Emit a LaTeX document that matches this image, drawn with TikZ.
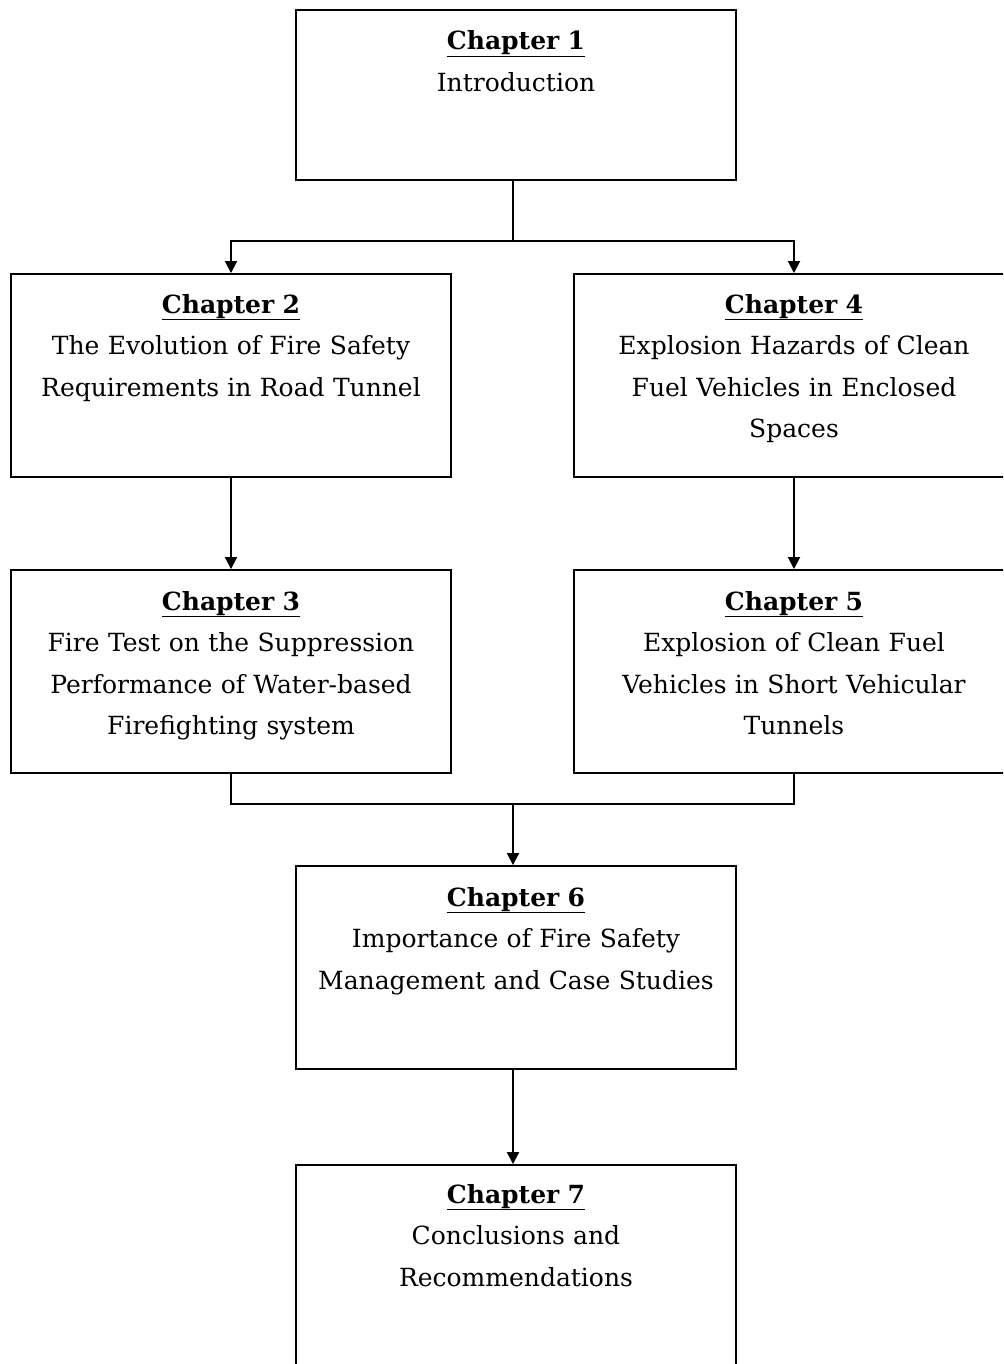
\documentclass[tikz,border=0pt]{standalone}
\usepackage{fontspec}
\setmainfont{DejaVu Serif}
\usetikzlibrary{arrows.meta}
\begin{document}
\begin{tikzpicture}[x=1pt,y=-1pt,
  chbox/.style={draw=black, line width=1.9pt, rectangle, minimum width=440pt, inner sep=0pt},
  chtext/.style={text width=430pt, align=center, anchor=base, inner sep=0pt,
    font=\fontsize{25}{41.5}\selectfont},
  link/.style={draw=black, line width=1.9pt},
  arr/.style={link, -{Triangle[width=12pt,length=12pt]}}]
\useasboundingbox (0,0) rectangle (1003,1364);
\clip (0,0) rectangle (1003,1364);
\fill[white] (0,0) rectangle (1003,1364);
% boxes
\node[chbox, minimum height=170pt] (ch1) at (516,95) {};
\node[chbox, minimum height=203pt] (ch2) at (231,375.5) {};
\node[chbox, minimum height=203pt] (ch4) at (794,375.5) {};
\node[chbox, minimum height=203pt] (ch3) at (231,671.5) {};
\node[chbox, minimum height=203pt] (ch5) at (794,671.5) {};
\node[chbox, minimum height=203pt] (ch6) at (516,967.5) {};
\node[chbox, minimum height=260pt] (ch7) at (516,1295) {};
% texts
\node[chtext] (t1) at (516,50) {\underline{\textbf{Chapter 1}}\\Introduction};
\node[chtext] (t2) at (231,313) {\underline{\textbf{Chapter 2}}\\The Evolution of Fire Safety\\Requirements in Road Tunnel};
\node[chtext] (t4) at (794,313) {\underline{\textbf{Chapter 4}}\\Explosion Hazards of Clean\\Fuel Vehicles in Enclosed\\Spaces};
\node[chtext] (t3) at (231,610) {\underline{\textbf{Chapter 3}}\\Fire Test on the Suppression\\Performance of Water-based\\Firefighting system};
\node[chtext] (t5) at (794,610) {\underline{\textbf{Chapter 5}}\\Explosion of Clean Fuel\\Vehicles in Short Vehicular\\Tunnels};
\node[chtext] (t6) at (516,906) {\underline{\textbf{Chapter 6}}\\Importance of Fire Safety\\Management and Case Studies};
\node[chtext] (t7) at (516,1203) {\underline{\textbf{Chapter 7}}\\Conclusions and\\Recommendations};
% connectors
\coordinate (j1) at (513,241);
\coordinate (j2) at (513,804);
\draw[link] (ch1.south -| j1) -- (j1);
\draw[arr] (j1) -| (ch2.north);
\draw[arr] (j1) -| (ch4.north);
\draw[arr] (ch2.south) -- (ch3.north);
\draw[arr] (ch4.south) -- (ch5.north);
\draw[link] (ch3.south) |- (j2) -| (ch5.south);
\draw[arr] (j2) -- (ch6.north -| j2);
\draw[arr] (ch6.south -| j2) -- (ch7.north -| j2);
\end{tikzpicture}
\end{document}
